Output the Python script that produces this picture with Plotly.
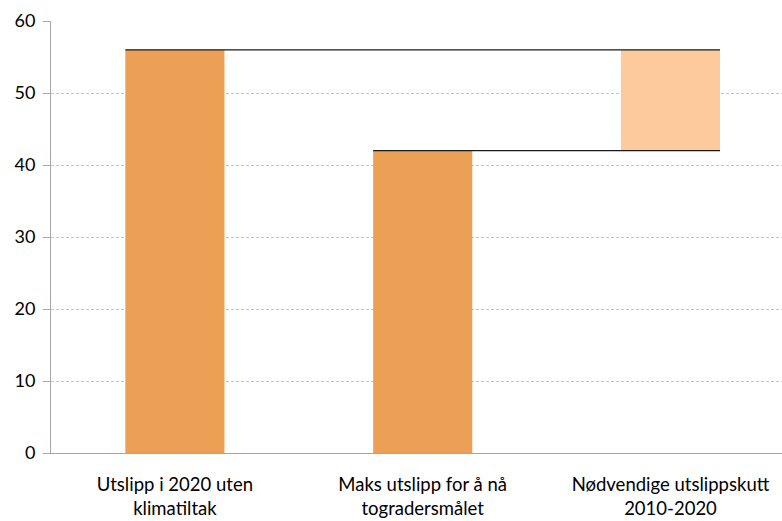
import plotly.graph_objects as go

categories = ["Utslipp i 2020 uten<br>klimatiltak", "Maks utslipp for å nå<br>togradersmålet", "Nødvendige utslippskutt<br>2010-2020"]
bar_tops = [56, 42, 56]
bar_bases = [0, 0, 42]
bar_colors = ["#EBA055", "#EBA055", "#FCCA9B"]
y_ticks = [0, 10, 20, 30, 40, 50, 60]

bar_width = 0.4
xs = list(range(len(categories)))

fig = go.Figure()
fig.add_trace(go.Bar(
    x=xs,
    y=[t - b for t, b in zip(bar_tops, bar_bases)],
    base=bar_bases,
    width=bar_width,
    marker=dict(color=bar_colors, line=dict(width=0)),
    showlegend=False,
    hoverinfo="skip",
))

# connector lines: top of bar 1 -> right edge of bar 3 ; top of bar 2 -> right edge of bar 3
for i in (0, 1):
    fig.add_trace(go.Scatter(
        x=[xs[i] - bar_width / 2, xs[2] + bar_width / 2],
        y=[bar_tops[i], bar_tops[i]],
        mode="lines",
        line=dict(color="#1a1a1a", width=1.3),
        showlegend=False,
        hoverinfo="skip",
    ))

fig.update_layout(
    width=782, height=521,
    margin=dict(l=51, r=0, t=21, b=68),
    plot_bgcolor="white", paper_bgcolor="white",
    font=dict(family="Lato, 'Open Sans', sans-serif", size=18, color="#000000"),
    bargap=0.6,
)
fig.update_xaxes(
    range=[-0.5, 2.45],
    tickmode="array", tickvals=xs, ticktext=categories,
    showgrid=False, zeroline=False,
    showline=True, linecolor="#A6A6A6", linewidth=1,
    ticks="", ticklabelstandoff=15,
    tickfont=dict(size=18.5),
    automargin=False,
)
fig.update_yaxes(
    range=[0, 60],
    tickmode="array", tickvals=y_ticks,
    showgrid=True, gridcolor="#C4C4C4", griddash="3px,2px", gridwidth=1,
    zeroline=False,
    showline=True, linecolor="#A6A6A6", linewidth=1,
    ticks="outside", ticklen=7, tickcolor="#A6A6A6",
    tickfont=dict(size=18),
    ticklabelstandoff=4,
    automargin=False,
)

fig.write_html("out.html")
